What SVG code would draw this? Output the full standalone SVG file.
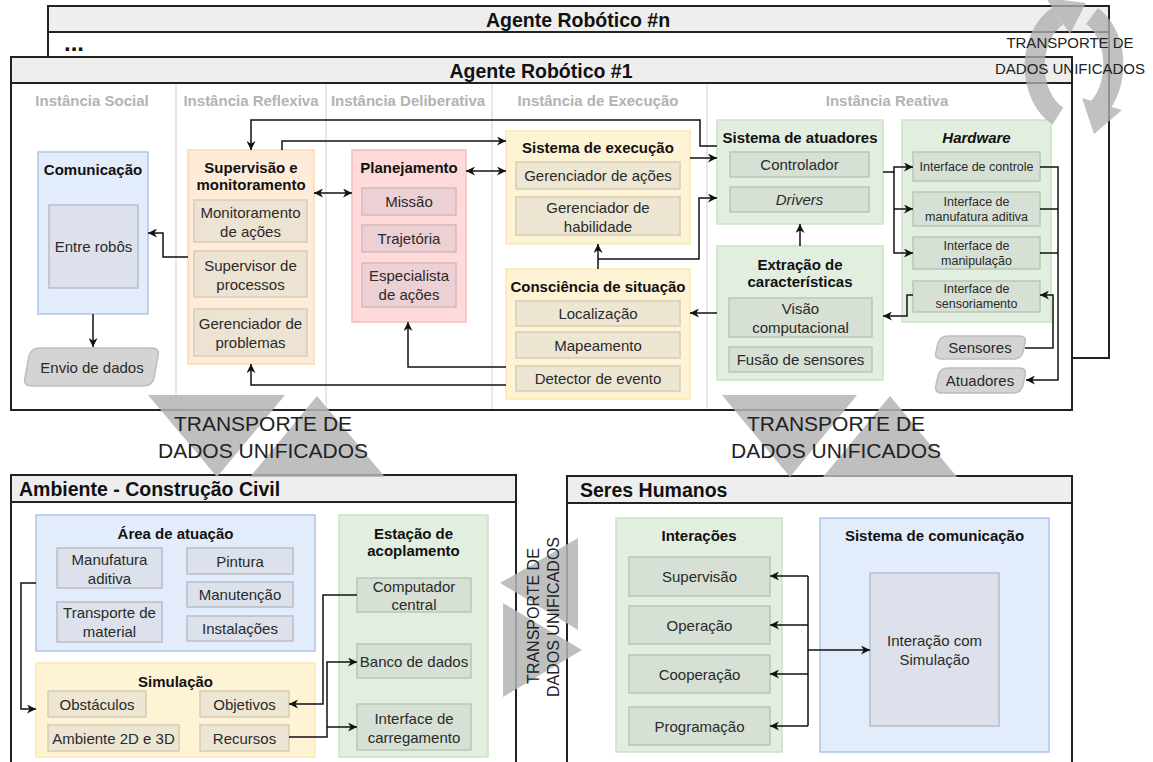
<svg xmlns="http://www.w3.org/2000/svg" width="1153" height="762" viewBox="0 0 1153 762">
<defs>
<marker id="ah" viewBox="0 0 10 10" refX="10" refY="5" markerWidth="9" markerHeight="9" markerUnits="userSpaceOnUse" orient="auto-start-reverse"><path d="M0,0 L10,5 L0,10 L3,5 Z" fill="#111"/></marker>
<style>
text{font-family:'Liberation Sans',Arial,sans-serif;dominant-baseline:central;text-anchor:middle;fill:#2a2a2a;font-size:15px}
.ct{font-weight:bold;font-size:19.5px;fill:#111}
.ttl{font-weight:bold;fill:#111}
.lane{font-weight:bold;fill:#b3b3b3;font-size:15px}
.hw{font-size:12.5px}
.tr{font-size:21px;fill:#222}
.frame{fill:#fff;stroke:#222;stroke-width:2}
.head{fill:#eeeeee;stroke:#222;stroke-width:2}
.div{stroke:#e8e8e8;stroke-width:2}
.blue{fill:#e3ecfa;stroke:#aec5ea;stroke-width:1.5}
.iblue{fill:#dce1eb;stroke:#b8bdc7;stroke-width:1.5}
.orange{fill:#feecd9;stroke:#fcd8b0;stroke-width:1.5}
.iorange{fill:#ede3d3;stroke:#d8ccba;stroke-width:1.5}
.red{fill:#ffdadb;stroke:#f8babb;stroke-width:1.5}
.ired{fill:#ecd0d3;stroke:#d5b9bc;stroke-width:1.5}
.yel{fill:#fff3d6;stroke:#fde8ab;stroke-width:1.5}
.iyel{fill:#ede6d3;stroke:#d6cdb6;stroke-width:1.5}
.grn{fill:#e2eedf;stroke:#c9e3c3;stroke-width:1.5}
.igrn{fill:#d6e0d4;stroke:#b9c7b6;stroke-width:1.5}
.gray{fill:#d4d4d4;stroke:#bdbdbd;stroke-width:1.5}
.cn{fill:none;stroke:#111;stroke-width:1.5}
.tri{fill:#b5b5b5}
</style>
</defs>

<!-- containers -->
<g id="agente-n">
<rect class="frame" x="48" y="6" width="1061" height="352"/>
<rect class="head" x="48" y="6" width="1061" height="26"/>
<text class="ct" x="578" y="19.5">Agente Robótico #n</text>
<text x="74" y="42" style="font-weight:bold;font-size:24px;fill:#111">...</text>
</g>

<g id="agente-1">
<rect class="frame" x="11" y="57" width="1061" height="353"/>
<line class="div" x1="176" y1="84" x2="176" y2="409"/>
<line class="div" x1="326" y1="84" x2="326" y2="409"/>
<line class="div" x1="492" y1="84" x2="492" y2="409"/>
<line class="div" x1="707" y1="84" x2="707" y2="409"/>
<rect class="head" x="11" y="57" width="1061" height="26"/>
<text class="ct" x="541" y="70.5">Agente Robótico #1</text>
<text class="lane" x="92" y="100">Instância Social</text>
<text class="lane" x="251" y="100">Instância Reflexiva</text>
<text class="lane" x="408" y="100">Instância Deliberativa</text>
<text class="lane" x="598" y="100">Instância de Execução</text>
<text class="lane" x="887" y="100">Instância Reativa</text>
</g>

<g id="ambiente">
<rect class="frame" x="11" y="475" width="505" height="300"/>
<rect class="head" x="11" y="475" width="505" height="27"/>
<text class="ct" x="19" y="489" style="text-anchor:start">Ambiente - Construção Civil</text>
</g>

<g id="seres-humanos">
<rect class="frame" x="567" y="476" width="505" height="300"/>
<rect class="head" x="567" y="476" width="505" height="27"/>
<text class="ct" x="580" y="490" style="text-anchor:start">Seres Humanos</text>
</g>

<!-- agent nodes -->
<g id="comunicacao">
<rect class="blue" x="38" y="152" width="110" height="162"/>
<text class="ttl" x="93" y="169">Comunicação</text>
<rect class="iblue" x="49" y="205" width="89" height="83"/>
<text x="93.5" y="246">Entre robôs</text>
</g>

<g id="envio-dados">
<path class="gray" d="M40,348 H151 Q160,348 158,356 L154,378 Q152,386 143,386 H32 Q23,386 25,378 L29,356 Q31,348 40,348 Z"/>
<text x="92" y="367">Envio de dados</text>
</g>

<g id="supervisao">
<rect class="orange" x="188" y="150" width="126" height="214"/>
<text class="ttl" x="251" y="167">Supervisão e</text>
<text class="ttl" x="251" y="184">monitoramento</text>
<rect class="iorange" x="194" y="200" width="113" height="42"/>
<text x="250.5" y="212">Monitoramento</text>
<text x="250.5" y="231">de ações</text>
<rect class="iorange" x="194" y="251" width="113" height="46"/>
<text x="250.5" y="265">Supervisor de</text>
<text x="250.5" y="284">processos</text>
<rect class="iorange" x="194" y="309" width="113" height="47"/>
<text x="250.5" y="323">Gerenciador de</text>
<text x="250.5" y="342">problemas</text>
</g>

<g id="planejamento">
<rect class="red" x="352" y="150" width="114" height="172"/>
<text class="ttl" x="409" y="167">Planejamento</text>
<rect class="ired" x="362" y="188" width="94" height="27"/>
<text x="409" y="201.5">Missão</text>
<rect class="ired" x="362" y="225" width="94" height="27"/>
<text x="409" y="238.5">Trajetória</text>
<rect class="ired" x="362" y="263" width="94" height="44"/>
<text x="409" y="275">Especialista</text>
<text x="409" y="294">de ações</text>
</g>

<g id="sistema-execucao">
<rect class="yel" x="506" y="131" width="184" height="113"/>
<text class="ttl" x="598" y="147">Sistema de execução</text>
<rect class="iyel" x="516" y="162" width="164" height="27"/>
<text x="598" y="175.5">Gerenciador de ações</text>
<rect class="iyel" x="516" y="197" width="164" height="38"/>
<text x="598" y="207">Gerenciador de</text>
<text x="598" y="226">habilidade</text>
</g>

<g id="consciencia">
<rect class="yel" x="506" y="269" width="184" height="130"/>
<text class="ttl" x="598" y="286">Consciência de situação</text>
<rect class="iyel" x="516" y="301" width="164" height="25"/>
<text x="598" y="313.5">Localização</text>
<rect class="iyel" x="516" y="332" width="164" height="26"/>
<text x="598" y="345">Mapeamento</text>
<rect class="iyel" x="516" y="366" width="164" height="25"/>
<text x="598" y="378.5">Detector de evento</text>
</g>

<g id="sistema-atuadores">
<rect class="grn" x="717" y="120" width="166" height="104"/>
<text class="ttl" x="800" y="137">Sistema de atuadores</text>
<rect class="igrn" x="730" y="152" width="139" height="25"/>
<text x="799.5" y="164.5">Controlador</text>
<rect class="igrn" x="730" y="187" width="139" height="25"/>
<text x="799.5" y="199.5" style="font-style:italic">Drivers</text>
</g>

<g id="extracao">
<rect class="grn" x="717" y="246" width="166" height="134"/>
<text class="ttl" x="800" y="264">Extração de</text>
<text class="ttl" x="800" y="281">características</text>
<rect class="igrn" x="729" y="298" width="143" height="39"/>
<text x="800.5" y="308">Visão</text>
<text x="800.5" y="327">computacional</text>
<rect class="igrn" x="729" y="347" width="143" height="25"/>
<text x="800.5" y="359.5">Fusão de sensores</text>
</g>

<g id="hardware">
<rect class="grn" x="902" y="120" width="149" height="202"/>
<text class="ttl" x="976.5" y="137" style="font-style:italic">Hardware</text>
<rect class="igrn" x="913" y="152" width="127" height="29"/>
<text class="hw" x="976.5" y="167">Interface de controle</text>
<rect class="igrn" x="913" y="192" width="127" height="34"/>
<text class="hw" x="976.5" y="201.5">Interface de</text>
<text class="hw" x="976.5" y="216.5">manufatura aditiva</text>
<rect class="igrn" x="913" y="237" width="127" height="32"/>
<text class="hw" x="976.5" y="245.5">Interface de</text>
<text class="hw" x="976.5" y="260.5">manipulação</text>
<rect class="igrn" x="913" y="281" width="127" height="31"/>
<text class="hw" x="976.5" y="289">Interface de</text>
<text class="hw" x="976.5" y="304">sensoriamento</text>
</g>

<g id="sensores">
<path class="gray" d="M948,336 H1019 Q1027,336 1025,343 L1023,352 Q1021,359 1013,359 H942 Q934,359 936,352 L938,343 Q940,336 948,336 Z"/>
<text x="980" y="347.5">Sensores</text>
</g>
<g id="atuadores">
<path class="gray" d="M948,368 H1019 Q1027,368 1025,376 L1023,385 Q1021,393 1013,393 H942 Q934,393 936,385 L938,376 Q940,368 948,368 Z"/>
<text x="980" y="380.5">Atuadores</text>
</g>

<!-- environment nodes -->
<g id="area-atuacao">
<rect class="blue" x="36" y="515" width="279" height="136"/>
<text class="ttl" x="175.5" y="533">Área de atuação</text>
<rect class="iblue" x="57" y="548" width="105" height="40"/>
<text x="109.5" y="559">Manufatura</text>
<text x="109.5" y="578">aditiva</text>
<rect class="iblue" x="187" y="548" width="106" height="26"/>
<text x="240" y="561">Pintura</text>
<rect class="iblue" x="187" y="582" width="106" height="25"/>
<text x="240" y="594.5">Manutenção</text>
<rect class="iblue" x="57" y="602" width="105" height="40"/>
<text x="109.5" y="612">Transporte de</text>
<text x="109.5" y="631">material</text>
<rect class="iblue" x="187" y="616" width="106" height="25"/>
<text x="240" y="628.5">Instalações</text>
</g>

<g id="simulacao">
<rect class="yel" x="36" y="663" width="279" height="94"/>
<text class="ttl" x="175.5" y="681">Simulação</text>
<rect class="iyel" x="48" y="691" width="98" height="26"/>
<text x="97" y="704">Obstáculos</text>
<rect class="iyel" x="200" y="691" width="89" height="26"/>
<text x="244.5" y="704">Objetivos</text>
<rect class="iyel" x="48" y="725" width="131" height="26"/>
<text x="113.5" y="738">Ambiente 2D e 3D</text>
<rect class="iyel" x="200" y="725" width="89" height="26"/>
<text x="244.5" y="738">Recursos</text>
</g>

<g id="estacao">
<rect class="grn" x="339" y="515" width="149" height="242"/>
<text class="ttl" x="413.5" y="533">Estação de</text>
<text class="ttl" x="413.5" y="550">acoplamento</text>
<rect class="igrn" x="357" y="578" width="114" height="34"/>
<text x="414" y="586">Computador</text>
<text x="414" y="604">central</text>
<rect class="igrn" x="357" y="644" width="114" height="34"/>
<text x="414" y="661">Banco de dados</text>
<rect class="igrn" x="357" y="704" width="114" height="46"/>
<text x="414" y="718">Interface de</text>
<text x="414" y="737">carregamento</text>
</g>

<g id="interacoes">
<rect class="grn" x="616" y="518" width="166" height="234"/>
<text class="ttl" x="699" y="535">Interações</text>
<rect class="igrn" x="629" y="557" width="141" height="39"/>
<text x="699.5" y="576.5">Supervisão</text>
<rect class="igrn" x="629" y="606" width="141" height="38"/>
<text x="699.5" y="625">Operação</text>
<rect class="igrn" x="629" y="655" width="141" height="38"/>
<text x="699.5" y="674">Cooperação</text>
<rect class="igrn" x="629" y="707" width="141" height="38"/>
<text x="699.5" y="726">Programação</text>
</g>

<g id="sistema-comunicacao">
<rect class="blue" x="820" y="518" width="229" height="234"/>
<text class="ttl" x="934.5" y="535">Sistema de comunicação</text>
<rect class="iblue" x="870" y="573" width="129" height="153"/>
<text x="934.5" y="640">Interação com</text>
<text x="934.5" y="659">Simulação</text>
</g>

<!-- transport symbols -->
<g id="transporte-esq">
<g opacity="0.85">
<polygon class="tri" points="148,395 285,395 217,477"/>
<polygon class="tri" points="317,396 250,477 385,477"/>
</g>
<text class="tr" x="263" y="423">TRANSPORTE DE</text>
<text class="tr" x="263" y="450">DADOS UNIFICADOS</text>
</g>
<g id="transporte-dir">
<g opacity="0.85">
<polygon class="tri" points="722,395 857,395 790,477"/>
<polygon class="tri" points="890,396 823,477 957,477"/>
</g>
<text class="tr" x="836" y="423">TRANSPORTE DE</text>
<text class="tr" x="836" y="450">DADOS UNIFICADOS</text>
</g>
<g id="transporte-vert">
<g opacity="0.85">
<polygon class="tri" points="500,583 578,538 578,630"/>
<polygon class="tri" points="582,650 503,603 503,697"/>
</g>
<text x="533" y="616" transform="rotate(-90 533 616)" style="font-size:16px;fill:#222">TRANSPORTE DE</text>
<text x="553" y="617" transform="rotate(-90 553 617)" style="font-size:16px;fill:#222">DADOS UNIFICADOS</text>
</g>
<g id="transporte-agentes">
<g opacity="0.78">
<path d="M1058,116 A40,55 0 0 1 1058,16" fill="none" stroke="#b0b0b0" stroke-width="20"/>
<polygon fill="#b0b0b0" points="1070,34 1046,-2 1086,3"/>
<path d="M1092,16 A40,55 0 0 1 1098,108" fill="none" stroke="#b0b0b0" stroke-width="20"/>
<polygon fill="#b0b0b0" points="1082,98 1122,110 1094,134"/>
</g>
<text x="1070" y="42" style="font-size:15px;fill:#222">TRANSPORTE DE</text>
<text x="1070" y="68" style="font-size:15px;fill:#222">DADOS UNIFICADOS</text>
</g>

<!-- connectors -->
<g id="connectors">
<path class="cn" d="M717,146 H700 V120 H251 V150" marker-end="url(#ah)"/>
<path class="cn" d="M282,150 V141 H506" marker-end="url(#ah)"/>
<path class="cn" d="M314,193 H352" marker-start="url(#ah)" marker-end="url(#ah)"/>
<path class="cn" d="M188,257 H163 V233 H148" marker-end="url(#ah)"/>
<path class="cn" d="M93,314 V347" marker-end="url(#ah)"/>
<path class="cn" d="M466,171 H506" marker-start="url(#ah)" marker-end="url(#ah)"/>
<path class="cn" d="M690,158 H717" marker-end="url(#ah)"/>
<path class="cn" d="M598,269 V244" marker-end="url(#ah)"/>
<path class="cn" d="M598,259 H699 V198 H717" marker-end="url(#ah)"/>
<path class="cn" d="M506,367 H408 V322" marker-end="url(#ah)"/>
<path class="cn" d="M506,385 H251 V364" marker-end="url(#ah)"/>
<path class="cn" d="M717,313 H690" marker-end="url(#ah)"/>
<path class="cn" d="M800,246 V224" marker-end="url(#ah)"/>
<path class="cn" d="M883,172 H894 V167 H913" marker-end="url(#ah)"/>
<path class="cn" d="M894,172 V253 H913" marker-end="url(#ah)"/>
<path class="cn" d="M894,209 H913" marker-end="url(#ah)"/>
<path class="cn" d="M1040,167 H1058 V380 H1026" marker-end="url(#ah)"/>
<path class="cn" d="M1040,209 H1058"/>
<path class="cn" d="M1040,253 H1058"/>
<path class="cn" d="M1025,348 H1053 V295 H1040" marker-end="url(#ah)"/>
<path class="cn" d="M913,295 H907 V316 H883" marker-end="url(#ah)"/>
<path class="cn" d="M36,583 H21 V709 H36" marker-end="url(#ah)"/>
<path class="cn" d="M357,595 H323 V704 H289" marker-end="url(#ah)"/>
<path class="cn" d="M289,737 H327 V662 H357" marker-end="url(#ah)"/>
<path class="cn" d="M327,727 H357" marker-end="url(#ah)"/>
<path class="cn" d="M808,576 V726"/>
<path class="cn" d="M808,576 H770" marker-end="url(#ah)"/>
<path class="cn" d="M808,625 H770" marker-end="url(#ah)"/>
<path class="cn" d="M808,674 H770" marker-end="url(#ah)"/>
<path class="cn" d="M808,726 H770" marker-end="url(#ah)"/>
<path class="cn" d="M808,650 H870" marker-end="url(#ah)"/>
</g>
</svg>
